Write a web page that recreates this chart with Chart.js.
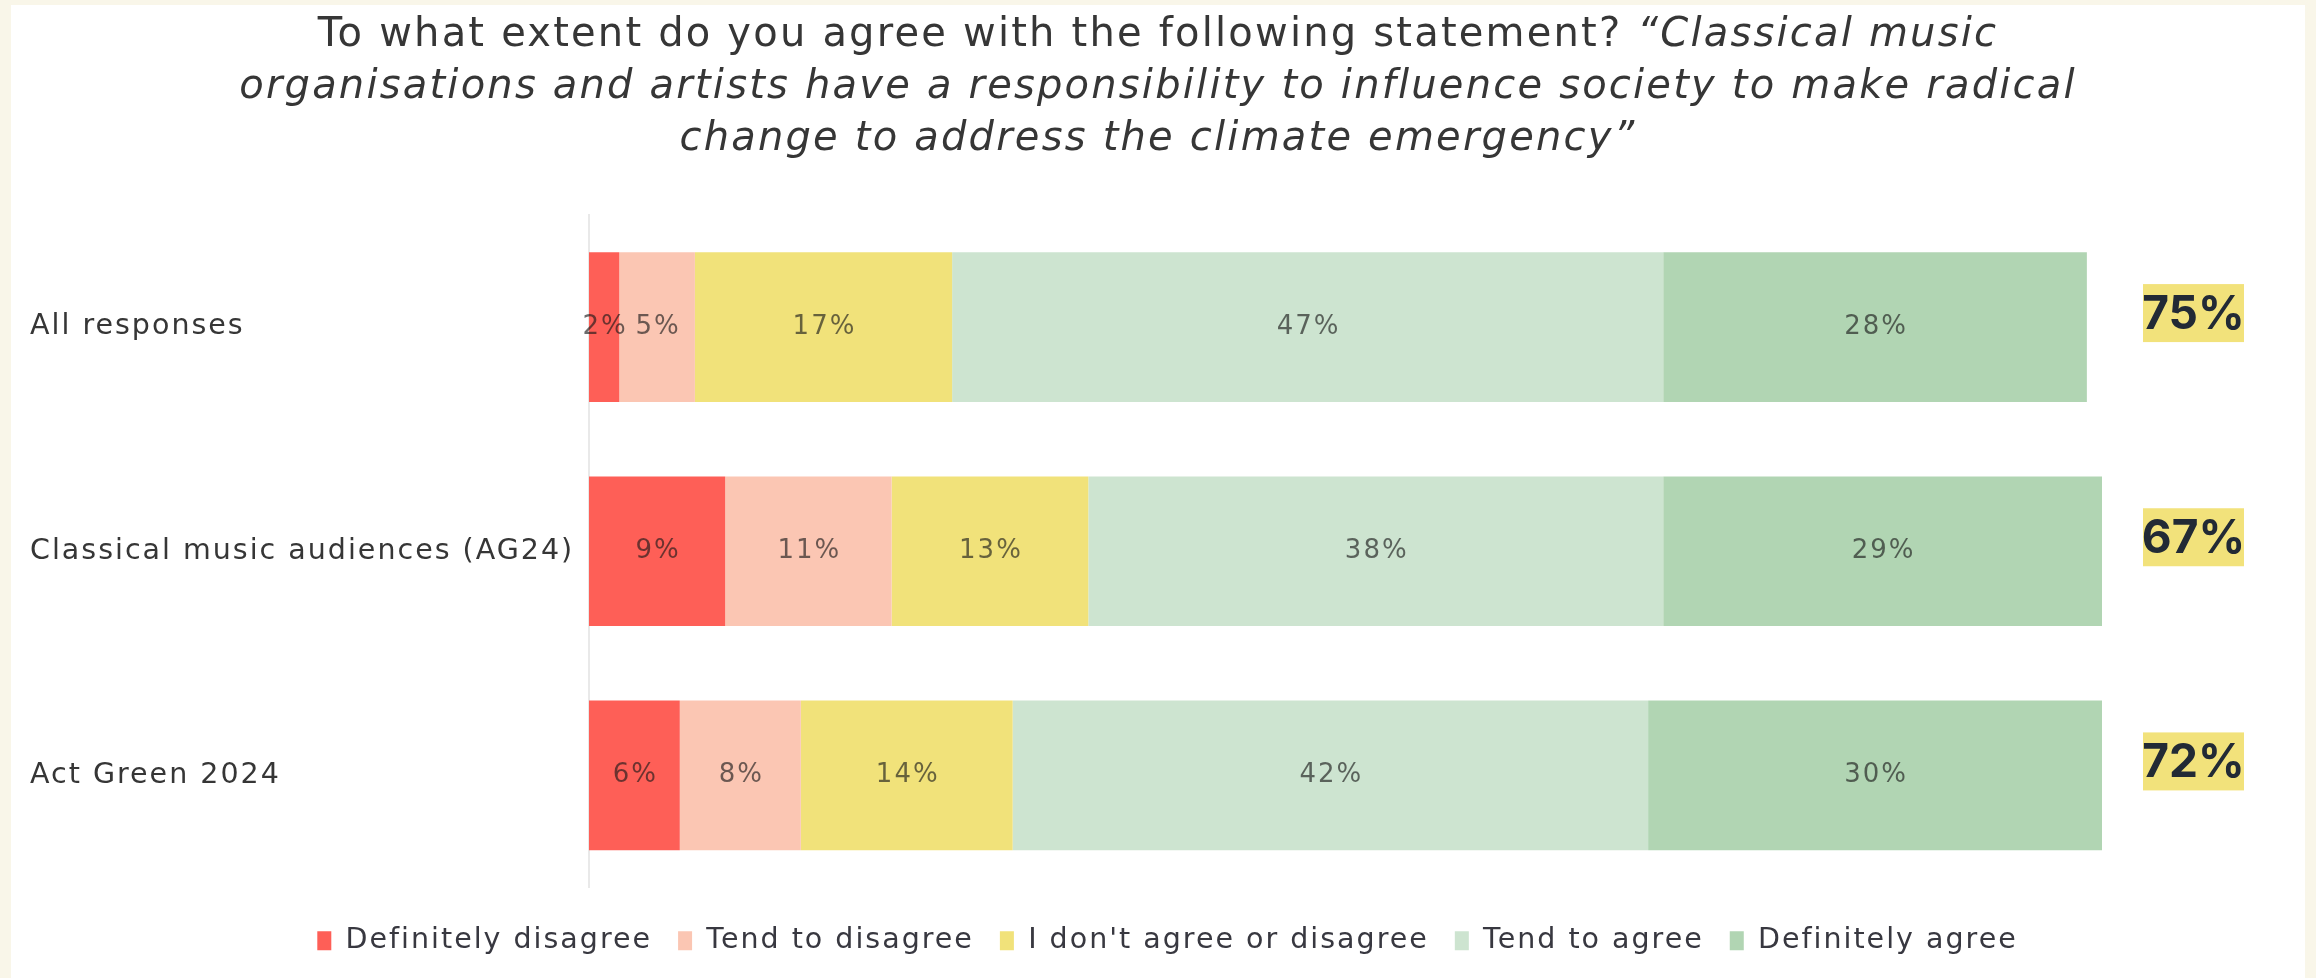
<!DOCTYPE html>
<html>
<head>
<meta charset="utf-8">
<script src="https://cdn.jsdelivr.net/npm/chart.js@4.4.1/dist/chart.umd.min.js"></script>
<style>
  html, body { margin: 0; padding: 0; width: 2316px; height: 978px; overflow: hidden; background: #f9f6e9; }
  #frame { position: absolute; left: 11px; top: 5px; width: 2294px; height: 973px; background: #ffffff; }
  #chart { position: absolute; left: 0; top: 0; }
  #title {
    position: absolute; left: 0; top: 1px; width: 100%;
    text-align: center; white-space: nowrap;
    font-family: "DejaVu Sans", sans-serif; font-size: 40px; line-height: 52px;
    letter-spacing: 2.2px; color: #363636;
  }
</style>
</head>
<body>
<div id="frame">
  <canvas id="chart" width="2294" height="973"></canvas>
  <div id="title">To what extent do you agree with the following statement? <em>“Classical music<br>organisations and artists have a responsibility to influence society to make radical<br>change to address the climate emergency”</em></div>
</div>
<script>
// Survey groups (rows) and the share of each answer, in percent
const categories = ['All responses', 'Classical music audiences (AG24)', 'Act Green 2024'];
const seriesNames = ['Definitely disagree', 'Tend to disagree', "I don't agree or disagree", 'Tend to agree', 'Definitely agree'];
const definitelyDisagree = [2, 9, 6];
const tendToDisagree = [5, 11, 8];
const neitherAgreeNorDisagree = [17, 13, 14];
const tendToAgree = [47, 38, 42];
const definitelyAgree = [28, 29, 30];

const seriesValues = [definitelyDisagree, tendToDisagree, neitherAgreeNorDisagree, tendToAgree, definitelyAgree];
const seriesColors = ['#fe5f57', '#fbc6b3', '#f1e27a', '#cde4d0', '#b1d5b3'];

const TEXT_FONT = 'DejaVu Sans';
const SPACING = '2px';

// Wide tracking for all canvas text
const trackingPlugin = {
  id: 'tracking',
  beforeLayout(chart) { chart.ctx.letterSpacing = SPACING; },
  beforeDraw(chart) { chart.ctx.letterSpacing = SPACING; }
};

// Percent value printed in the middle of every segment
const segmentLabels = {
  id: 'segmentLabels',
  afterDatasetsDraw(chart) {
    const ctx = chart.ctx;
    ctx.save();
    ctx.letterSpacing = SPACING;
    ctx.font = '26px "' + TEXT_FONT + '"';
    ctx.fillStyle = 'rgba(25, 25, 25, 0.64)';
    ctx.textAlign = 'center';
    ctx.textBaseline = 'middle';
    chart.data.datasets.forEach((ds, di) => {
      const meta = chart.getDatasetMeta(di);
      meta.data.forEach((bar, i) => {
        const v = ds.data[i];
        const cx = (bar.x + bar.base) / 2;
        ctx.fillText(v + '%', cx + 1, bar.y);
      });
    });
    ctx.restore();
  }
};

// Highlighted total of the two "agree" answers, right of each bar
const agreeTotals = {
  id: 'agreeTotals',
  afterDraw(chart) {
    const ctx = chart.ctx;
    const yScale = chart.scales.y;
    const area = chart.chartArea;
    ctx.save();
    ctx.letterSpacing = '0px';
    ctx.font = 'bold 46px Inter';
    ctx.textAlign = 'center';
    ctx.textBaseline = 'middle';
    categories.forEach((c, i) => {
      const total = tendToAgree[i] + definitelyAgree[i];
      const cy = yScale.getPixelForValue(i) - 14;
      const left = area.right + 41;
      const w = 101, h = 58;
      ctx.fillStyle = '#f2e27b';
      ctx.fillRect(left, cy - h / 2, w, h);
      ctx.fillStyle = '#222a35';
      ctx.fillText(total + '%', left + w / 2, cy + 2);
    });
    ctx.restore();
  }
};

const datasets = seriesNames.map((name, k) => ({
  label: name,
  data: seriesValues[k],
  backgroundColor: seriesColors[k],
  borderWidth: 0,
  categoryPercentage: 1,
  barPercentage: 0.668
}));

new Chart(document.getElementById('chart'), {
  type: 'bar',
  data: { labels: categories, datasets },
  plugins: [trackingPlugin, segmentLabels, agreeTotals],
  options: {
    indexAxis: 'y',
    responsive: false,
    animation: false,
    layout: { padding: { left: 19, right: 0, top: 210, bottom: 13 } },
    scales: {
      x: {
        stacked: true, min: 0, max: 100,
        display: true,
        ticks: { display: false },
        grid: { display: false },
        border: { display: false },
        afterFit(scale) { scale.height = 13; }
      },
      y: {
        stacked: true,
        ticks: {
          crossAlign: 'far',
          color: '#363636',
          font: { family: TEXT_FONT, size: 28.5 }
        },
        grid: { display: false },
        border: { display: true, color: '#e9e9e9', width: 2 },
        afterFit(scale) { scale.width = 559; }
      },
      yRight: {
        type: 'category',
        labels: categories,
        position: 'right',
        display: true,
        ticks: { display: false },
        grid: { display: false },
        border: { display: false },
        afterFit(scale) { scale.width = 203; }
      }
    },
    plugins: {
      title: { display: false },
      tooltip: { enabled: false },
      legend: {
        display: true,
        position: 'bottom',
        labels: {
          boxWidth: 14,
          boxHeight: 19,
          padding: 26,
          color: '#383840',
          font: { family: TEXT_FONT, size: 28.5 }
        }
      }
    }
  }
});
</script>
</body>
</html>
